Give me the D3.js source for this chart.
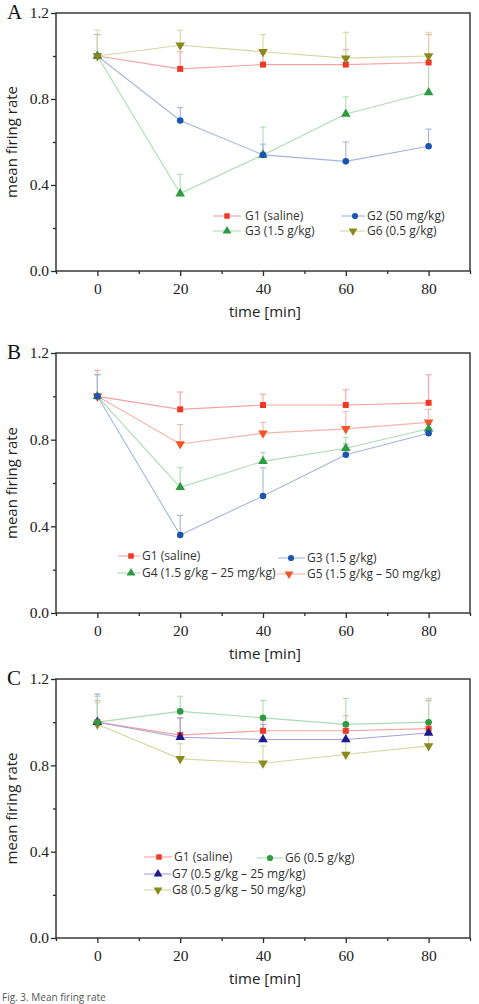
<!DOCTYPE html>
<html>
<head>
<meta charset="utf-8">
<script src="https://cdn.jsdelivr.net/npm/d3@7"></script>
<style>
  body { margin: 0; background: #fff; }
  svg { display: block; }
</style>
</head>
<body>
<div id="chart"></div>
<script>
// time points (min)
var times = [0, 20, 40, 60, 80];
var yTicks = [0.0, 0.4, 0.8, 1.2];

// panel A
var aG1 = [1.0, 0.94, 0.96, 0.96, 0.97];
var aG1Err = [0.10, 0.08, 0.05, 0.07, 0.13];
var aG2 = [1.0, 0.70, 0.54, 0.51, 0.58];
var aG2Err = [0.10, 0.06, 0.05, 0.09, 0.08];
var aG3 = [1.0, 0.36, 0.54, 0.73, 0.83];
var aG3Err = [0.10, 0.09, 0.13, 0.08, 0.14];
var aG6 = [1.0, 1.05, 1.02, 0.99, 1.0];
var aG6Err = [0.12, 0.07, 0.08, 0.12, 0.11];

// panel B
var bG1 = [1.0, 0.94, 0.96, 0.96, 0.97];
var bG1Err = [0.12, 0.08, 0.05, 0.07, 0.13];
var bG3 = [1.0, 0.36, 0.54, 0.73, 0.83];
var bG3Err = [0.10, 0.09, 0.13, 0.05, 0.04];
var bG4 = [1.0, 0.58, 0.70, 0.76, 0.85];
var bG4Err = [0.10, 0.09, 0.04, 0.05, 0.03];
var bG5 = [1.0, 0.78, 0.83, 0.85, 0.88];
var bG5Err = [0.10, 0.09, 0.05, 0.08, 0.06];

// panel C
var cG1 = [1.0, 0.94, 0.96, 0.96, 0.97];
var cG1Err = [0.10, 0.08, 0.05, 0.07, 0.13];
var cG6 = [1.0, 1.05, 1.02, 0.99, 1.0];
var cG6Err = [0.12, 0.07, 0.08, 0.12, 0.11];
var cG7 = [1.0, 0.93, 0.92, 0.92, 0.95];
var cG7Err = [0.13, 0.09, 0.07, 0.06, 0.05];
var cG8 = [0.99, 0.83, 0.81, 0.85, 0.89];
var cG8Err = [0.10, 0.07, 0.08, 0.06, 0.06];

// colours
var red = {mark: "#ee3a24", line: "#f5a3a0"};
var blue = {mark: "#1c55b0", line: "#a6b5de"};
var green = {mark: "#2f9a3f", line: "#aadcb2"};
var olive = {mark: "#888a1c", line: "#d6d6a4"};
var orange = {mark: "#f0552a", line: "#f7b4a8"};
var navy = {mark: "#1b1b8e", line: "#a2a2dc"};

var svg = d3.select("#chart").append("svg")
  .attr("width", 479)
  .attr("height", 1004);

var left = 56, right = 470;

var x = d3.scaleLinear().domain([-10, 90]).range([left, right]);

function drawPanel(letter, top, bottom, series, legend) {
  var y = d3.scaleLinear().domain([0, 1.2]).range([bottom, top]);
  var g = svg.append("g");

  // lines first
  series.forEach(function(s) {
    var line = d3.line()
      .x(function(d, i) { return x(times[i]); })
      .y(function(d) { return y(d); });
    g.append("path")
      .attr("d", line(s.vals))
      .attr("fill", "none")
      .attr("stroke", s.col.line)
      .attr("stroke-width", 1.1);
  });

  // error bars (upper only)
  series.forEach(function(s) {
    s.vals.forEach(function(v, i) {
      var cx = x(times[i]);
      g.append("line")
        .attr("x1", cx).attr("x2", cx)
        .attr("y1", y(v)).attr("y2", y(v + s.err[i]))
        .attr("stroke", s.col.line).attr("stroke-width", 1.1);
      g.append("line")
        .attr("x1", cx - 3).attr("x2", cx + 3)
        .attr("y1", y(v + s.err[i])).attr("y2", y(v + s.err[i]))
        .attr("stroke", s.col.line).attr("stroke-width", 1.1);
    });
  });

  // markers
  series.forEach(function(s) {
    var sym = d3.symbol().type(s.shape).size(s.shape === d3.symbolCircle ? 34 : (s.shape === d3.symbolSquare ? 36 : 40));
    g.selectAll(null)
      .data(s.vals)
      .enter()
      .append("path")
      .attr("d", sym)
      .attr("fill", s.col.mark)
      .attr("transform", function(d, i) {
        return "translate(" + x(times[i]) + "," + y(d) + ")" + (s.down ? " rotate(180)" : "");
      });
  });

  // frame
  g.append("rect")
    .attr("x", left).attr("y", top)
    .attr("width", right - left).attr("height", bottom - top)
    .attr("fill", "none").attr("stroke", "#2b2b2b").attr("stroke-width", 1.4);

  // x axis
  var xAxis = d3.axisBottom(x).tickValues(times).tickSize(5).tickFormat(d3.format("d"));
  var xa = g.append("g").attr("transform", "translate(0," + bottom + ")").call(xAxis);
  xa.select(".domain").remove();
  xa.selectAll(".tick line").attr("stroke", "#2b2b2b").attr("stroke-width", 1.3);
  xa.selectAll(".tick text")
    .attr("font-family", "Liberation Serif, serif")
    .attr("font-size", 15.5).attr("fill", "#222").attr("dy", "0.95em");
  var xMinor = d3.axisBottom(x).tickValues([-10, 10, 30, 50, 70, 90]).tickSize(3).tickFormat("");
  var xm = g.append("g").attr("transform", "translate(0," + bottom + ")").call(xMinor);
  xm.select(".domain").remove();
  xm.selectAll(".tick line").attr("stroke", "#2b2b2b").attr("stroke-width", 1.3);

  // y axis
  var yAxis = d3.axisLeft(y).tickValues(yTicks).tickSize(5).tickFormat(d3.format(".1f"));
  var ya = g.append("g").attr("transform", "translate(" + left + ",0)").call(yAxis);
  ya.select(".domain").remove();
  ya.selectAll(".tick line").attr("stroke", "#2b2b2b").attr("stroke-width", 1.3);
  ya.selectAll(".tick text")
    .attr("font-family", "Liberation Serif, serif")
    .attr("font-size", 15.5).attr("fill", "#222").attr("x", -7);
  var yMinor = d3.axisLeft(y).tickValues([0.2, 0.6, 1.0]).tickSize(3).tickFormat("");
  var ym = g.append("g").attr("transform", "translate(" + left + ",0)").call(yMinor);
  ym.select(".domain").remove();
  ym.selectAll(".tick line").attr("stroke", "#2b2b2b").attr("stroke-width", 1.3);

  // panel letter
  g.append("text")
    .attr("x", 7).attr("y", top + 6)
    .attr("font-family", "Liberation Serif, serif")
    .attr("font-size", 21).attr("fill", "#111")
    .text(letter);

  // axis titles
  g.append("text")
    .attr("transform", "translate(17," + ((top + bottom) / 2) + ") rotate(-90)")
    .attr("text-anchor", "middle")
    .attr("font-family", "Open Sans, sans-serif")
    .attr("font-size", 15).attr("fill", "#222")
    .text("mean firing rate");
  g.append("text")
    .attr("x", (left + right) / 2 + 2).attr("y", bottom + 46)
    .attr("text-anchor", "middle")
    .attr("font-family", "Open Sans, sans-serif")
    .attr("font-size", 15).attr("fill", "#222")
    .text("time [min]");

  // legend
  legend.forEach(function(l) {
    var s = l.s;
    g.append("line")
      .attr("x1", l.x1).attr("x2", l.x2)
      .attr("y1", l.y).attr("y2", l.y)
      .attr("stroke", s.col.line).attr("stroke-width", 1.1);
    var sym = d3.symbol().type(s.shape).size(s.shape === d3.symbolCircle ? 30 : (s.shape === d3.symbolSquare ? 30 : 34));
    g.append("path")
      .attr("d", sym)
      .attr("fill", s.col.mark)
      .attr("transform", "translate(" + l.mx + "," + l.y + ")" + (s.down ? " rotate(180)" : ""));
    g.append("text")
      .attr("x", l.tx).attr("y", l.y).attr("dy", "0.35em")
      .attr("font-family", "Open Sans, sans-serif")
      .attr("font-size", 12).attr("fill", "#333")
      .text(l.label);
  });
}

// panel A
var sA1 = {vals: aG1, err: aG1Err, col: red, shape: d3.symbolSquare};
var sA2 = {vals: aG2, err: aG2Err, col: blue, shape: d3.symbolCircle};
var sA3 = {vals: aG3, err: aG3Err, col: green, shape: d3.symbolTriangle};
var sA6 = {vals: aG6, err: aG6Err, col: olive, shape: d3.symbolTriangle, down: true};
drawPanel("A", 13, 271, [sA1, sA3, sA2, sA6], [
  {s: sA1, x1: 213, x2: 241, mx: 227, tx: 245, y: 216, label: "G1 (saline)"},
  {s: sA3, x1: 213, x2: 241, mx: 227, tx: 245, y: 231, label: "G3 (1.5 g/kg)"},
  {s: sA2, x1: 341, x2: 365, mx: 355, tx: 367, y: 216, label: "G2 (50 mg/kg)"},
  {s: sA6, x1: 340, x2: 365, mx: 353, tx: 367, y: 231, label: "G6 (0.5 g/kg)"}
]);

// panel B
var sB1 = {vals: bG1, err: bG1Err, col: red, shape: d3.symbolSquare};
var sB3 = {vals: bG3, err: bG3Err, col: blue, shape: d3.symbolCircle};
var sB4 = {vals: bG4, err: bG4Err, col: green, shape: d3.symbolTriangle};
var sB5 = {vals: bG5, err: bG5Err, col: orange, shape: d3.symbolTriangle, down: true};
drawPanel("B", 353, 613, [sB1, sB5, sB4, sB3], [
  {s: sB1, x1: 118, x2: 140, mx: 131, tx: 142, y: 556, label: "G1 (saline)"},
  {s: sB4, x1: 117, x2: 140, mx: 131, tx: 142, y: 573, label: "G4 (1.5 g/kg \u2013 25 mg/kg)"},
  {s: sB3, x1: 278, x2: 305, mx: 291, tx: 307, y: 558, label: "G3 (1.5 g/kg)"},
  {s: sB5, x1: 277, x2: 305, mx: 289, tx: 307, y: 574, label: "G5 (1.5 g/kg \u2013 50 mg/kg)"}
]);

// panel C
var sC1 = {vals: cG1, err: cG1Err, col: red, shape: d3.symbolSquare};
var sC6 = {vals: cG6, err: cG6Err, col: green, shape: d3.symbolCircle};
var sC7 = {vals: cG7, err: cG7Err, col: navy, shape: d3.symbolTriangle};
var sC8 = {vals: cG8, err: cG8Err, col: olive, shape: d3.symbolTriangle, down: true};
drawPanel("C", 679, 938, [sC8, sC1, sC7, sC6], [
  {s: sC1, x1: 144, x2: 172, mx: 159, tx: 174, y: 857, label: "G1 (saline)"},
  {s: sC6, x1: 257, x2: 283, mx: 270, tx: 285, y: 858, label: "G6 (0.5 g/kg)"},
  {s: sC7, x1: 144, x2: 171, mx: 158, tx: 172, y: 874, label: "G7 (0.5 g/kg \u2013 25 mg/kg)"},
  {s: sC8, x1: 144, x2: 171, mx: 158, tx: 172, y: 890, label: "G8 (0.5 g/kg \u2013 50 mg/kg)"}
]);

// caption at the bottom edge
svg.append("text")
  .attr("x", 2).attr("y", 1001)
  .attr("font-family", "Open Sans, sans-serif")
  .attr("font-size", 10).attr("fill", "#555")
  .text("Fig. 3. Mean firing rate");
</script>
</body>
</html>
